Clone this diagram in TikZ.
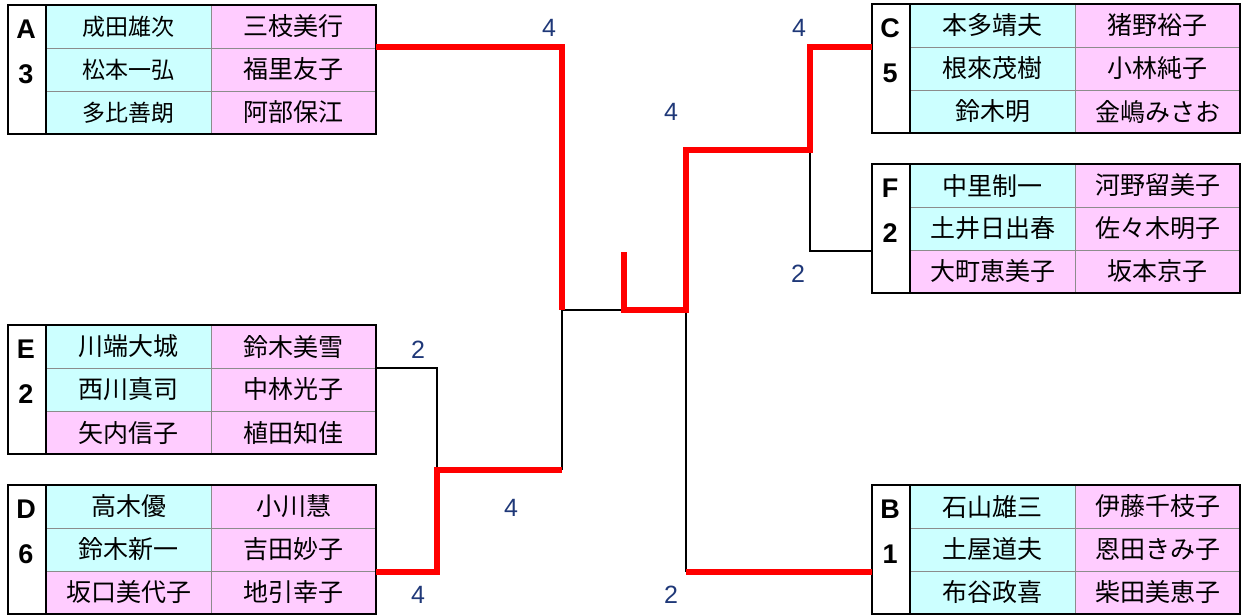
\documentclass[tikz,border=0pt]{standalone}
\usepackage{fontspec}
\setmainfont{Liberation Sans}
\newfontfamily\jp{Noto Sans CJK JP}
\definecolor{mencol}{RGB}{204,255,255}
\definecolor{womencol}{RGB}{255,204,255}
\definecolor{scorecol}{RGB}{31,56,120}
\newcommand{\smallname}{\fontsize{23}{23}\selectfont}
\tikzset{
  men/.style={fill=mencol},
  women/.style={fill=womencol},
  cellgrid/.style={draw=black!45,line width=0.8pt},
  tabframe/.style={draw=black,line width=1.6pt},
  teamtag/.style={font=\bfseries\fontsize{27}{27}\selectfont,inner sep=0pt},
  player/.style={font=\jp\fontsize{25}{25}\selectfont,inner sep=0pt},
  score/.style={font=\fontsize{25}{25}\selectfont,text=scorecol,inner sep=0pt},
  win/.style={draw=red,line width=6.5pt},
  lose/.style={draw=black,line width=1.6pt}
}
\begin{document}
\begin{tikzpicture}[x=1pt,y=-1pt]
    \useasboundingbox (0,0) rectangle (1243,615);

    % Draw the team tables
    \foreach \tm/\x/\y/\rk/\ma/\mb/\mc/\wa/\wb/\wc/\fc in {
        A/8/5/3/{\smallname 成田雄次}/{\smallname 松本一弘}/{\smallname 多比善朗}/三枝美行/福里友子/阿部保江/men,
        E/8/325/2/川端大城/西川真司/矢内信子/鈴木美雪/中林光子/植田知佳/women,
        D/8/485/6/高木優/鈴木新一/坂口美代子/小川慧/吉田妙子/地引幸子/women,
        C/872/4/5/本多靖夫/根來茂樹/鈴木明/猪野裕子/小林純子/金嶋みさお/men,
        F/872/164/2/中里制一/土井日出春/大町恵美子/河野留美子/佐々木明子/坂本京子/women,
        B/872/485/1/石山雄三/土屋道夫/布谷政喜/伊藤千枝子/恩田きみ子/柴田美恵子/men} {
        \fill[men] (\x+38,\y) rectangle ++(165,86);
        \fill[\fc] (\x+38,\y+86) rectangle ++(165,43);
        \fill[women] (\x+203,\y) rectangle ++(165,129);
        \draw[cellgrid] (\x+38,\y+43) -- ++(330,0) (\x+38,\y+86) -- ++(330,0) (\x+203,\y) -- ++(0,129);
        \draw[tabframe] (\x,\y) rectangle ++(368,129);
        \draw[tabframe] (\x+38,\y) -- ++(0,129);
        \node[teamtag] (\tm-tag) at (\x+18,\y+24) {\tm};
        \node[teamtag] (\tm-rank) at (\x+18,\y+69) {\rk};
        \node[player] (\tm-m1) at (\x+120.5,\y+21.5) {\ma};
        \node[player] (\tm-m2) at (\x+120.5,\y+64.5) {\mb};
        \node[player] (\tm-m3) at (\x+120.5,\y+107.5) {\mc};
        \node[player] (\tm-w1) at (\x+285.5,\y+21.5) {\wa};
        \node[player] (\tm-w2) at (\x+285.5,\y+64.5) {\wb};
        \node[player] (\tm-w3) at (\x+285.5,\y+107.5) {\wc};
      }

    % Bracket points
    \coordinate (A-out) at (376,47);
    \coordinate (E-out) at (376,368);
    \coordinate (D-out) at (376,572);
    \coordinate (C-out) at (872,47);
    \coordinate (F-out) at (872,251);
    \coordinate (B-out) at (872,572);
    \coordinate (ED) at (437,470);
    \coordinate (ED-r) at (562,470);
    \coordinate (L) at (562,310);
    \coordinate (M) at (624,310);
    \coordinate (M-top) at (624,252);
    \coordinate (R) at (686,310);
    \coordinate (R-top) at (686,150);
    \coordinate (CF) at (810,150);
    \coordinate (R-bot) at (686,572);

    % Lost matches
    \draw[lose] (E-out) -| (ED);
    \draw[lose] (ED-r) -- (L) -- (M);
    \draw[lose] (F-out) -| (CF);
    \draw[lose] (R) -- (R-bot);

    % Won matches
    \draw[win] (A-out) -| (L);
    \draw[win] (D-out) -| (ED) -- (ED-r);
    \draw[win] (M-top) -- (M) -- (R) -- (R-top) -- (CF) |- (C-out);
    \draw[win] (R-bot) -- (B-out);

    % Scores
    \node[score] (sA) at (549,28) {4};
    \node[score] (sC) at (799,28) {4};
    \node[score] (sR) at (671,112) {4};
    \node[score] (sF) at (798,274) {2};
    \node[score] (sE) at (418,350) {2};
    \node[score] (sL) at (511,508) {4};
    \node[score] (sD) at (418,595) {4};
    \node[score] (sB) at (671,595) {2};
  \end{tikzpicture}
\end{document}
